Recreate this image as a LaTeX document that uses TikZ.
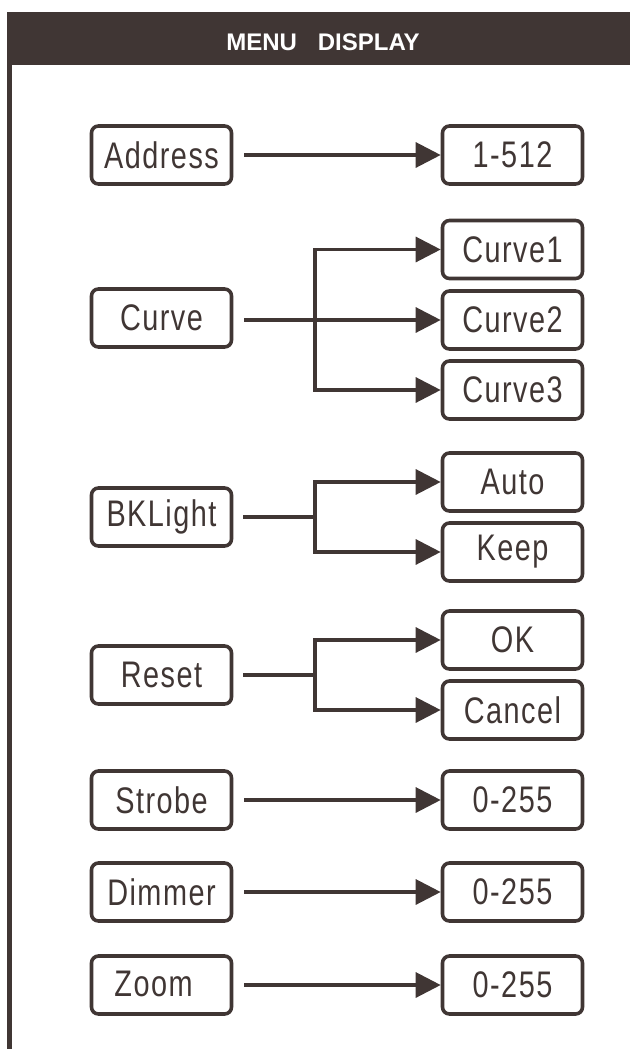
\documentclass[tikz,border=0pt]{standalone}
\usepackage{fontspec}
\usetikzlibrary{arrows.meta,calc}
\newfontfamily\boxfont{Liberation Sans}[FakeStretch=0.78,LetterSpace=4]
\newfontfamily\headfont{Liberation Sans}
\definecolor{dark}{RGB}{64,54,52}
\begin{document}
\begin{tikzpicture}[x=0.5pt,y=-0.5pt,
  menubox/.style={draw=dark, line width=1.8pt, rounded corners=3.5pt,
    minimum width=70pt, minimum height=29pt, inner sep=0pt,
    text=dark, font=\boxfont\fontsize{18.5pt}{20pt}\selectfont},
  wire/.style={draw=dark, line width=1.6pt, line join=miter},
  arr/.style={wire, -{Triangle[length=12.5pt,width=12.5pt]}},
  ]
\useasboundingbox (0,0) rectangle (630,1049);
% header and frame
\fill[dark] (7,12) rectangle (630,65);
\draw[dark, line width=2.2pt] (9.5,12) -- (9.5,1049);
\node[text=white, font=\headfont\bfseries\fontsize{12pt}{14pt}\selectfont] (title) at (323,42) {MENU\hspace{10.5pt}DISPLAY};

% left column
\node[menubox] (addr)   at (161.5,155) {Address};
\node[menubox] (curve)  at (161.5,318) {Curve};
\node[menubox] (bkl)    at (161.5,517) {BKLight};
\node[menubox] (reset)  at (161.5,675) {Reset};
\node[menubox] (strobe) at (161.5,800) {Strobe};
\node[menubox] (dimmer) at (161.5,892) {Dimmer};
\node[menubox] (zoom)   at (161.5,985) {\raisebox{1.5pt}{\hspace*{-8pt}Zoom}};

% right column
\node[menubox] (v512)  at (512.5,155) {1-512};
\node[menubox] (c1)    at (512.5,249.5) {Curve1};
\node[menubox] (c2)    at (512.5,320) {Curve2};
\node[menubox] (c3)    at (512.5,390) {Curve3};
\node[menubox] (auto)  at (512.5,482) {Auto};
\node[menubox] (keep)  at (512.5,552) {Keep};
\node[menubox] (ok)    at (512.5,640) {OK};
\node[menubox] (cancel) at (512.5,710) {Cancel};
\node[menubox] (vs)    at (512.5,800) {0-255};
\node[menubox] (vd)    at (512.5,892) {0-255};
\node[menubox] (vz)    at (512.5,985) {0-255};

% junctions
\coordinate (jc) at (315,320);
\coordinate (jb) at (315,517);
\coordinate (jr) at (315,675);

% connectors
\draw[arr, shorten <=5.5pt] (addr.east) -- (v512.west);
\draw[arr, shorten <=5.5pt] (curve.east |- c2.west) -- (c2.west);
\draw[arr] (jc) |- (c1.west);
\draw[arr] (jc) |- (c3.west);
\draw[wire, shorten <=5pt] (bkl.east) -- (jb);
\draw[arr] (jb) |- (auto.west);
\draw[arr] (jb) |- (keep.west);
\draw[wire, shorten <=5pt] (reset.east) -- (jr);
\draw[arr] (jr) |- (ok.west);
\draw[arr] (jr) |- (cancel.west);
\draw[arr, shorten <=5.5pt] (strobe.east) -- (vs.west);
\draw[arr, shorten <=5.5pt] (dimmer.east) -- (vd.west);
\draw[arr, shorten <=5.5pt] (zoom.east) -- (vz.west);
\end{tikzpicture}
\end{document}
